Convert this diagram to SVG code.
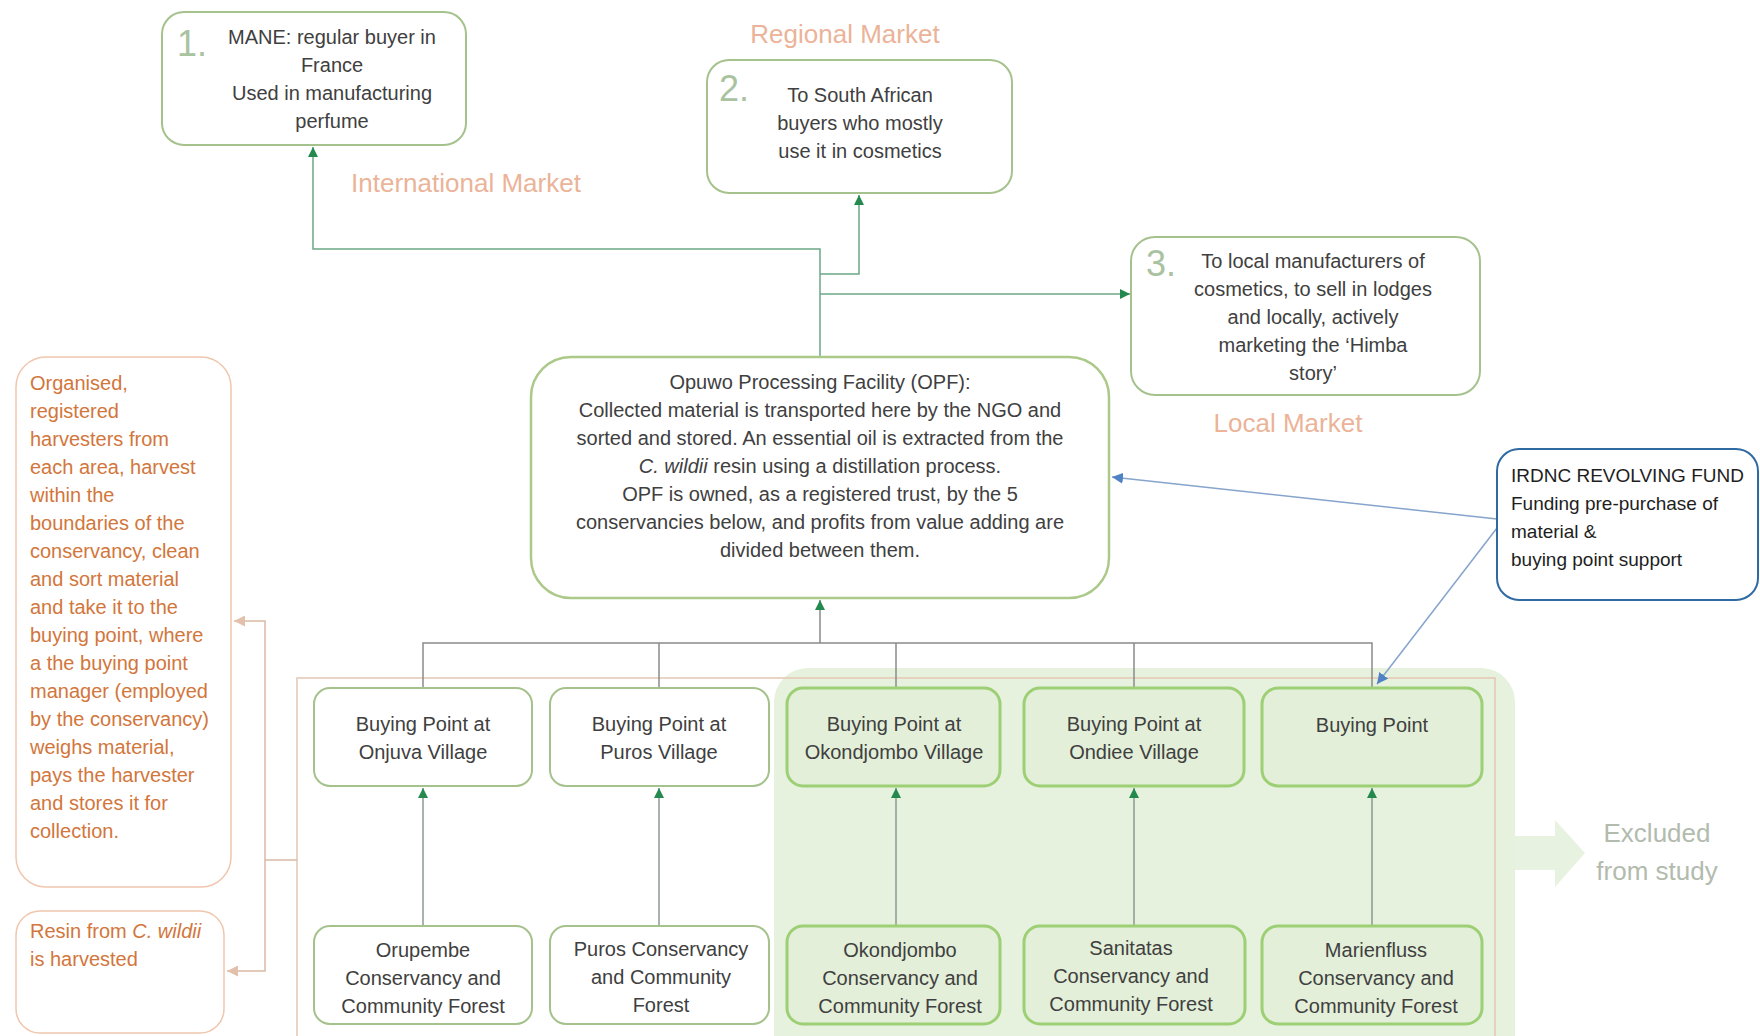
<svg xmlns="http://www.w3.org/2000/svg" width="1760" height="1036" viewBox="0 0 1760 1036">
<style>
text{font-family:"Liberation Sans",Arial,sans-serif;font-size:20px;fill:#404040}
.c{text-anchor:middle}
.num{font-size:36px;fill:#a9c2a0}
.mk{font-size:26px;fill:#ebb398;text-anchor:middle}
.or{fill:#d2763c}
.ir{fill:#1e1e1e;font-size:19px}
.wb{fill:#fff;stroke:#a5c28c;stroke-width:2}
.gb{fill:#e3efd8;stroke:#9dcf74;stroke-width:3}
.ob{fill:#fff;stroke:#f0c6ae;stroke-width:1.5}
.tc{fill:none;stroke:#6aa887;stroke-width:1.5}
.bc{fill:none;stroke:#8a8a8a;stroke-width:1.5}
.gc{fill:none;stroke:#8a9a90;stroke-width:1.5}
.bl{fill:none;stroke:#86a4cc;stroke-width:1.5}
.tn{fill:none;stroke:#dcb9a4;stroke-width:1.5}
</style>
<defs>
<marker id="ag" viewBox="0 0 10 10" refX="10" refY="5" markerWidth="10" markerHeight="10" markerUnits="userSpaceOnUse" orient="auto"><path d="M0,0 L10,5 L0,10 z" fill="#23894f"/></marker>
<marker id="ab" viewBox="0 0 10 10" refX="10" refY="5" markerWidth="11" markerHeight="11" markerUnits="userSpaceOnUse" orient="auto"><path d="M0,0 L10,5 L0,10 z" fill="#4f82c4"/></marker>
<marker id="at" viewBox="0 0 10 10" refX="10" refY="5" markerWidth="11" markerHeight="11" markerUnits="userSpaceOnUse" orient="auto"><path d="M0,0 L10,5 L0,10 z" fill="#e2c0ab"/></marker>
</defs>
<rect width="1760" height="1036" fill="#fff"/>

<g id="excluded-region">
<rect x="774" y="668" width="741" height="400" rx="34" fill="#e6f1de"/>
<path d="M1515 836 H1555 V820 L1585 853 L1555 887 V870 H1515 z" fill="#e8f2e0"/>
<text x="1657" y="842" class="c" style="font-size:26px;fill:#b2bbad">Excluded</text>
<text x="1657" y="880" class="c" style="font-size:26px;fill:#b2bbad">from study</text>
</g>
<g id="frame">
<path d="M297 1036 V678 H1495 V1036" fill="none" stroke="#e4c6b4" stroke-width="1.5"/>
</g>

<g id="connectors">
<path class="tc" d="M820 357 V249 H313 V147" marker-end="url(#ag)"/>
<path class="tc" d="M820 274 H859 V195" marker-end="url(#ag)"/>
<path class="tc" d="M820 294 H1130" marker-end="url(#ag)"/>
<path class="bc" d="M820 643 V600" marker-end="url(#ag)"/>
<path class="bc" d="M423 688 V643 H1372 V688 M659 643 V688 M896 643 V688 M1134 643 V688"/>
<path class="gc" d="M423 926 V788" marker-end="url(#ag)"/>
<path class="gc" d="M659 926 V788" marker-end="url(#ag)"/>
<path class="gc" d="M896 926 V788" marker-end="url(#ag)"/>
<path class="gc" d="M1134 926 V788" marker-end="url(#ag)"/>
<path class="gc" d="M1372 926 V788" marker-end="url(#ag)"/>
<path class="bl" d="M1497 519 L1112 477" marker-end="url(#ab)"/>
<path class="bl" d="M1497 528 L1377 684" marker-end="url(#ab)"/>
<path class="tn" d="M297 860 H265 V621 H234" marker-end="url(#at)"/>
<path class="tn" d="M265 860 V971 H227" marker-end="url(#at)"/>
</g>

<g id="market-labels">
<text x="466" y="192" class="mk">International Market</text>
<text x="845" y="43" class="mk">Regional Market</text>
<text x="1288" y="432" class="mk">Local Market</text>
</g>

<g id="international">
<rect class="wb" x="162" y="12" width="304" height="133" rx="22"/>
<text x="177" y="56" class="num">1.</text>
<text x="332" y="44" class="c">MANE: regular buyer in</text>
<text x="332" y="72" class="c">France</text>
<text x="332" y="100" class="c">Used in manufacturing</text>
<text x="332" y="128" class="c">perfume</text>
</g>

<g id="regional">
<rect class="wb" x="707" y="60" width="305" height="133" rx="22"/>
<text x="719" y="101" class="num">2.</text>
<text x="860" y="102" class="c">To South African</text>
<text x="860" y="130" class="c">buyers who mostly</text>
<text x="860" y="158" class="c">use it in cosmetics</text>
</g>

<g id="local">
<rect class="wb" x="1131" y="237" width="349" height="158" rx="24"/>
<text x="1146" y="276" class="num">3.</text>
<text x="1313" y="268" class="c">To local manufacturers of</text>
<text x="1313" y="296" class="c">cosmetics, to sell in lodges</text>
<text x="1313" y="324" class="c">and locally, actively</text>
<text x="1313" y="352" class="c">marketing the ‘Himba</text>
<text x="1313" y="380" class="c">story’</text>
</g>

<g id="opf">
<rect x="531" y="357" width="578" height="241" rx="40" fill="#fff" stroke="#adc98a" stroke-width="2.5"/>
<text x="820" y="389" class="c">Opuwo Processing Facility (OPF):</text>
<text x="820" y="417" class="c">Collected material is transported here by the NGO and</text>
<text x="820" y="445" class="c">sorted and stored. An essential oil is extracted from the</text>
<text x="820" y="473" class="c"><tspan font-style="italic">C. wildii</tspan> resin using a distillation process.</text>
<text x="820" y="501" class="c">OPF is owned, as a registered trust, by the 5</text>
<text x="820" y="529" class="c">conservancies below, and profits from value adding are</text>
<text x="820" y="557" class="c">divided between them.</text>
</g>

<g id="irdnc">
<rect x="1497" y="449" width="261" height="151" rx="22" fill="#fff" stroke="#2f6aa3" stroke-width="2"/>
<text x="1511" y="482" class="ir">IRDNC REVOLVING FUND</text>
<text x="1511" y="510" class="ir">Funding pre-purchase of</text>
<text x="1511" y="538" class="ir">material &amp;</text>
<text x="1511" y="566" class="ir">buying point support</text>
</g>

<g id="harvesters">
<rect class="ob" x="16" y="357" width="215" height="530" rx="30"/>
<text class="or" x="30" y="390">Organised,</text>
<text class="or" x="30" y="418">registered</text>
<text class="or" x="30" y="446">harvesters from</text>
<text class="or" x="30" y="474">each area, harvest</text>
<text class="or" x="30" y="502">within the</text>
<text class="or" x="30" y="530">boundaries of the</text>
<text class="or" x="30" y="558">conservancy, clean</text>
<text class="or" x="30" y="586">and sort material</text>
<text class="or" x="30" y="614">and take it to the</text>
<text class="or" x="30" y="642">buying point, where</text>
<text class="or" x="30" y="670">a the buying point</text>
<text class="or" x="30" y="698">manager (employed</text>
<text class="or" x="30" y="726">by the conservancy)</text>
<text class="or" x="30" y="754">weighs material,</text>
<text class="or" x="30" y="782">pays the harvester</text>
<text class="or" x="30" y="810">and stores it for</text>
<text class="or" x="30" y="838">collection.</text>
</g>

<g id="resin">
<rect class="ob" x="16" y="911" width="208" height="122" rx="24"/>
<text class="or" x="30" y="938">Resin from <tspan font-style="italic">C. wildii</tspan></text>
<text class="or" x="30" y="966">is harvested</text>
</g>

<g id="bp-onjuva">
<rect class="wb" x="314" y="688" width="218" height="98" rx="16"/>
<text x="423" y="731" class="c">Buying Point at</text>
<text x="423" y="759" class="c">Onjuva Village</text>
</g>
<g id="bp-puros">
<rect class="wb" x="550" y="688" width="219" height="98" rx="16"/>
<text x="659" y="731" class="c">Buying Point at</text>
<text x="659" y="759" class="c">Puros Village</text>
</g>
<g id="bp-okondjombo">
<rect class="gb" x="787" y="688" width="213" height="98" rx="16"/>
<text x="894" y="731" class="c">Buying Point at</text>
<text x="894" y="759" class="c">Okondjombo Village</text>
</g>
<g id="bp-ondiee">
<rect class="gb" x="1024" y="688" width="220" height="98" rx="16"/>
<text x="1134" y="731" class="c">Buying Point at</text>
<text x="1134" y="759" class="c">Ondiee Village</text>
</g>
<g id="bp-5">
<rect class="gb" x="1262" y="688" width="220" height="98" rx="16"/>
<text x="1372" y="732" class="c">Buying Point</text>
</g>

<g id="c-orupembe">
<rect class="wb" x="314" y="926" width="218" height="98" rx="16"/>
<text x="423" y="957" class="c">Orupembe</text>
<text x="423" y="985" class="c">Conservancy and</text>
<text x="423" y="1013" class="c">Community Forest</text>
</g>
<g id="c-puros">
<rect class="wb" x="550" y="926" width="219" height="98" rx="16"/>
<text x="661" y="956" class="c">Puros Conservancy</text>
<text x="661" y="984" class="c">and Community</text>
<text x="661" y="1012" class="c">Forest</text>
</g>
<g id="c-okondjombo">
<rect class="gb" x="787" y="926" width="213" height="98" rx="16"/>
<text x="900" y="957" class="c">Okondjombo</text>
<text x="900" y="985" class="c">Conservancy and</text>
<text x="900" y="1013" class="c">Community Forest</text>
</g>
<g id="c-sanitatas">
<rect class="gb" x="1024" y="926" width="221" height="98" rx="16"/>
<text x="1131" y="955" class="c">Sanitatas</text>
<text x="1131" y="983" class="c">Conservancy and</text>
<text x="1131" y="1011" class="c">Community Forest</text>
</g>
<g id="c-marienfluss">
<rect class="gb" x="1262" y="926" width="220" height="98" rx="16"/>
<text x="1376" y="957" class="c">Marienfluss</text>
<text x="1376" y="985" class="c">Conservancy and</text>
<text x="1376" y="1013" class="c">Community Forest</text>
</g>
</svg>
